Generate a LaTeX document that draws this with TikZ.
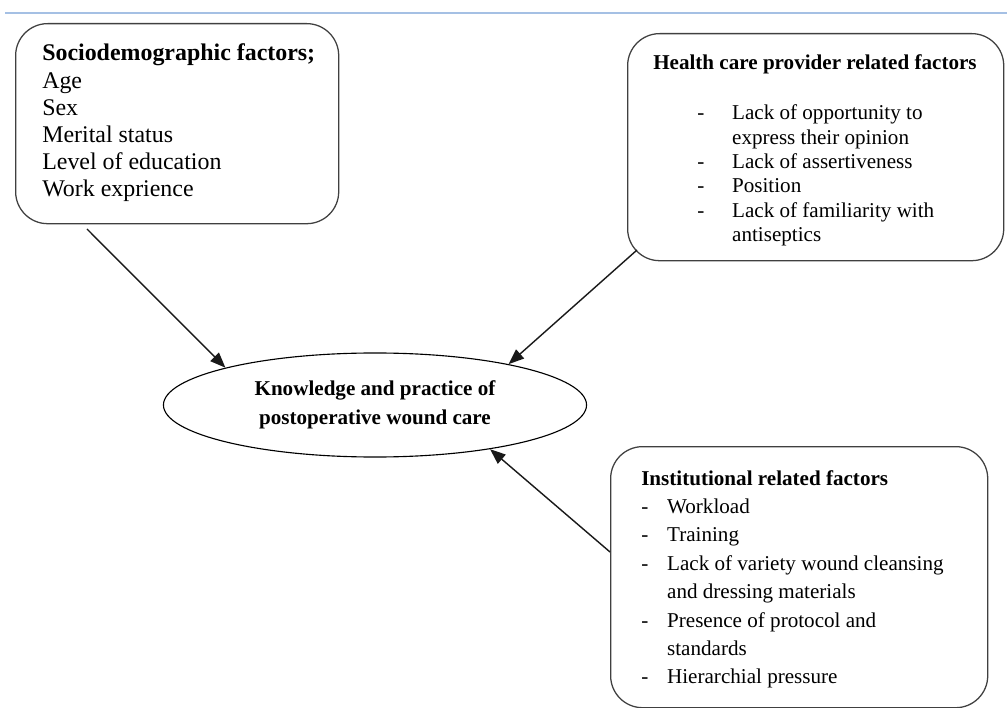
\documentclass[tikz,border=0pt]{standalone}
\usepackage{fontspec}
\setmainfont{Liberation Serif}
\usetikzlibrary{arrows.meta,shapes.geometric}

\begin{document}
\begin{tikzpicture}[x=0.025cm,y=-0.025cm,
	factorbox/.style={draw=black!75,line width=0.9pt,rounded corners=0.8cm,anchor=north west,inner sep=0pt},
	txt/.style={anchor=base west,inner sep=0pt,align=left},
	arr/.style={-{Triangle[length=11pt,width=8.5pt]},line width=1pt,black!90}]
	
	% 画布大小 (以像素为单位)
	\useasboundingbox (0,0) rectangle (1007,708);
	
	% 顶部的细线
	\draw[color={rgb,255:red,165;green,192;blue,228},line width=1.2pt] (5,13) -- (1007,13);
	
	% 三个因素框
	\node[factorbox,minimum width=8.075cm,minimum height=5cm] (sd) at (15,23) {}; % 社会人口学因素
	\node[factorbox,minimum width=9.4cm,minimum height=5.675cm] (hp) at (627,33) {}; % 医护人员相关因素
	\node[factorbox,minimum width=9.425cm,minimum height=6.525cm] (inst) at (610,446) {}; % 机构相关因素
	
	% 中间的椭圆
	\node[ellipse,draw,line width=0.8pt,inner sep=0pt,minimum width=10.575cm,minimum height=2.6cm,
		align=center,font=\bfseries\fontsize{15}{20.5}\selectfont] (kp) at (375,405)
		{Knowledge and practice of\\postoperative wound care};
	
	% 框内文字
	\node[txt,font=\fontsize{17}{19.3}\selectfont] (sdtext) at (42,61)
		{\begin{tabular}[t]{@{}l@{}}
			\textbf{Sociodemographic factors;}\\
			Age\\
			Sex\\
			Merital status\\
			Level of education\\
			Work exprience
		\end{tabular}};
	
	\node[txt,font=\bfseries\fontsize{15}{18}\selectfont] (hptitle) at (653,70) {Health care provider related factors};
	\node[txt,font=\fontsize{15}{17.3}\selectfont] (hpitems) at (697,120)
		{\begin{tabular}[t]{@{}p{24.8pt}@{}l@{}}
			- & Lack of opportunity to\\
			  & express their opinion\\
			- & Lack of assertiveness\\
			- & Position\\
			- & Lack of familiarity with\\
			  & antiseptics
		\end{tabular}};
	
	\node[txt,font=\fontsize{15}{20.2}\selectfont] (insttext) at (641,485)
		{\begin{tabular}[t]{@{}p{18.4pt}@{}l@{}}
			\multicolumn{2}{@{}l@{}}{\textbf{Institutional related factors}}\\
			- & Workload\\
			- & Training\\
			- & Lack of variety wound cleansing\\
			  & and dressing materials\\
			- & Presence of protocol and\\
			  & standards\\
			- & Hierarchial pressure
		\end{tabular}};
	
	% 箭头的起点
	\coordinate (s1) at (87,229);
	\coordinate (s2) at (637,250);
	\coordinate (s3) at (610,552);
	
	% 从各因素指向椭圆的箭头
	\draw[arr] (s1) -- (kp.166);
	\draw[arr] (s2) -- (kp.17);
	\draw[arr] (s3) -- (kp.-21);
	
\end{tikzpicture}
\end{document}
